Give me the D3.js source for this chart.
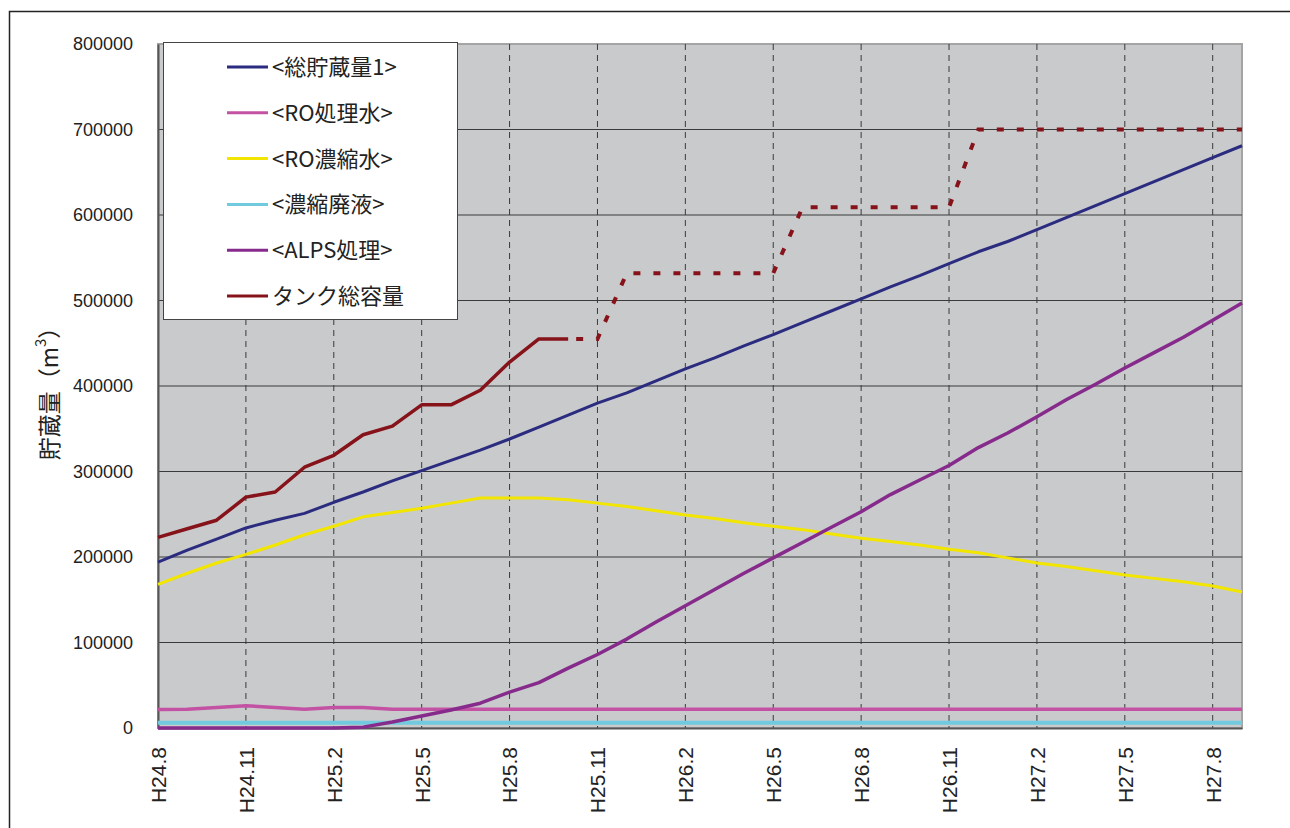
<!DOCTYPE html>
<html><head><meta charset="utf-8">
<script src="https://cdn.jsdelivr.net/npm/d3@7"></script>
<style>body{margin:0;background:#fff;} svg{display:block}</style>
</head><body><svg id="c" width="1290" height="828"></svg>
<script>
// ---- data ----
const months = ["H24.8","H24.9","H24.10","H24.11","H24.12","H25.1","H25.2","H25.3","H25.4","H25.5","H25.6","H25.7","H25.8","H25.9","H25.10","H25.11","H25.12","H26.1","H26.2","H26.3","H26.4","H26.5","H26.6","H26.7","H26.8","H26.9","H26.10","H26.11","H26.12","H27.1","H27.2","H27.3","H27.4","H27.5","H27.6","H27.7","H27.8","H27.9"];
const tickLabels = ["H24.8","H24.11","H25.2","H25.5","H25.8","H25.11","H26.2","H26.5","H26.8","H26.11","H27.2","H27.5","H27.8"];
const yTicks = [0,100000,200000,300000,400000,500000,600000,700000,800000];
const seriesNames = ["<総貯蔵量1>","<RO処理水>","<RO濃縮水>","<濃縮廃液>","<ALPS処理>","タンク総容量"];
const totalStorage = [194000,208000,221000,234000,243000,251000,264000,276000,289000,301000,313000,325000,338000,352000,366000,380000,392000,406000,420000,433000,447000,460000,474000,488000,502000,516000,529000,543000,557000,569000,583000,597000,611000,625000,639000,653000,667000,681000];
const roTreated = [21500,22000,24000,26000,24000,22000,24000,24000,22000,22000,22000,22000,22000,22000,22000,22000,22000,22000,22000,22000,22000,22000,22000,22000,22000,22000,22000,22000,22000,22000,22000,22000,22000,22000,22000,22000,22000,22000];
const roConcentrate = [168000,181000,193000,203000,214000,226000,236000,247000,252000,257000,263000,269000,269000,269000,267000,263000,259000,254000,249000,245000,240000,236000,232000,227000,222000,218000,214000,209000,205000,199000,193000,189000,184000,179000,175000,171000,166000,159000];
const concWaste = [6000,6000,6000,6000,6000,6000,6000,6000,6000,6000,6000,6000,6000,6000,6000,6000,6000,6000,6000,6000,6000,6000,6000,6000,6000,6000,6000,6000,6000,6000,6000,6000,6000,6000,6000,6000,6000,6000];
const alps = [0,0,0,0,0,0,0,1000,7000,14000,21000,29000,42000,53000,70000,86000,104000,124000,143000,162000,181000,199000,217000,235000,253000,273000,290000,307000,328000,345000,364000,384000,402000,421000,439000,457000,477000,497000];
const tankCapacity = [223000,233000,243000,270000,276000,305000,319000,343000,353000,378000,378000,395000,428000,455000,455000,455000,532000,532000,532000,532000,532000,532000,609000,609000,609000,609000,609000,609000,700000,700000,700000,700000,700000,700000,700000,700000,700000,700000];
const tankPlannedFrom = 14; // index where the planned (dotted) part begins
const colors = ["#2b2c80","#c452a4","#f2e600","#72cade","#862b8c","#86121a"];
const widths = [3,3.5,3,4,3.5];

// ---- chart ----
const svg = d3.select("#c");
const L = 158, R = 1242, T = 44, B = 728;
const x = d3.scalePoint().domain(months).range([L, R]);
const y = d3.scaleLinear().domain([0, 800000]).range([B, T]);

// outer frame
svg.append("rect").attr("x",9.5).attr("y",11.5).attr("width",1300).attr("height",840)
  .attr("fill","none").attr("stroke","#222").attr("stroke-width",1.5);

// plot area
svg.append("rect").attr("x",L).attr("y",T).attr("width",R-L).attr("height",B-T)
  .attr("fill","#c9cacc").attr("stroke","#a4a4a4").attr("stroke-width",2);

// horizontal grid
svg.append("g").selectAll("line").data(yTicks.filter(v=>v>0 && v<800000)).join("line")
  .attr("x1",L).attr("x2",R).attr("y1",d=>y(d)).attr("y2",d=>y(d))
  .attr("stroke","#3a3a3a").attr("stroke-width",1);

// vertical dashed grid
svg.append("g").selectAll("line").data(tickLabels.slice(1)).join("line")
  .attr("x1",d=>x(d)).attr("x2",d=>x(d)).attr("y1",T).attr("y2",B)
  .attr("stroke","#3a3a3a").attr("stroke-width",1).attr("stroke-dasharray","6,5");

// axes
const yAxis = d3.axisLeft(y).tickValues(yTicks).tickSize(0).tickPadding(25).tickFormat(d3.format("d"));
const gy = svg.append("g").attr("transform",`translate(${L},0)`).call(yAxis);
gy.select(".domain").attr("stroke","#555").attr("stroke-width",2);
gy.selectAll("text").attr("font-family","'Liberation Sans', Arial, sans-serif").attr("font-size",18).attr("fill","#222");

const xAxis = d3.axisBottom(x).tickValues(tickLabels).tickSize(0).tickPadding(0);
const gx = svg.append("g").attr("transform",`translate(0,${B})`).call(xAxis);
gx.select(".domain").attr("stroke","#555").attr("stroke-width",2);
gx.selectAll("text")
  .attr("font-family","'Liberation Sans', Arial, sans-serif").attr("font-size",21).attr("fill","#222")
  .attr("transform","translate(0,19) rotate(-90)")
  .attr("text-anchor","end").attr("dy","0.35em").attr("y",0).attr("x",0);

// lines
const line = d3.line().defined(d=>d.v!=null).x(d=>x(d.m)).y(d=>y(d.v));
const mk = arr => arr.map((v,i)=>({m:months[i], v}));
const series = [totalStorage, roTreated, roConcentrate, concWaste, alps];
const gl = svg.append("g").attr("fill","none").attr("stroke-linejoin","round");
series.forEach((s,k)=>{
  gl.append("path").attr("d",line(mk(s))).attr("stroke",colors[k]).attr("stroke-width",widths[k]);
});
const tankActual = tankCapacity.map((v,i)=> i<=tankPlannedFrom ? v : null);
const tankPlan = tankCapacity.map((v,i)=> i>=tankPlannedFrom ? v : null);
gl.append("path").attr("d",line(mk(tankActual))).attr("stroke",colors[5]).attr("stroke-width",3.5);
gl.append("path").attr("d",line(mk(tankPlan))).attr("stroke",colors[5]).attr("stroke-width",4)
  .attr("stroke-dasharray","7,13").attr("stroke-dashoffset",12).attr("stroke-linejoin","miter");

// legend
const lg = svg.append("g");
lg.append("rect").attr("x",163.5).attr("y",42.5).attr("width",294).attr("height",277)
  .attr("fill","#fff").attr("stroke","#444").attr("stroke-width",1);
seriesNames.forEach((n,k)=>{
  const yy = 67 + k*45.8;
  lg.append("line").attr("x1",227).attr("x2",268).attr("y1",yy).attr("y2",yy)
    .attr("stroke",colors[k]).attr("stroke-width",3);
  lg.append("text").attr("x",272).attr("y",yy).attr("dy","0.36em")
    .attr("font-family","'Noto Sans CJK JP', sans-serif").attr("font-size",22).attr("fill","#222").text(n);
});

// y label
const yl = svg.append("text").attr("transform","translate(50,388) rotate(-90)")
  .attr("text-anchor","middle").attr("dy","0.36em")
  .attr("font-family","'Noto Sans CJK JP', sans-serif").style("font-size","23px").attr("fill","#222");
yl.append("tspan").style("font-size","23px").text("貯蔵量（m");
yl.append("tspan").style("font-size","15px").attr("dy","-0.8em").text("3");
yl.append("tspan").style("font-size","23px").attr("dy","0.5em").text("）");
</script></body></html>
